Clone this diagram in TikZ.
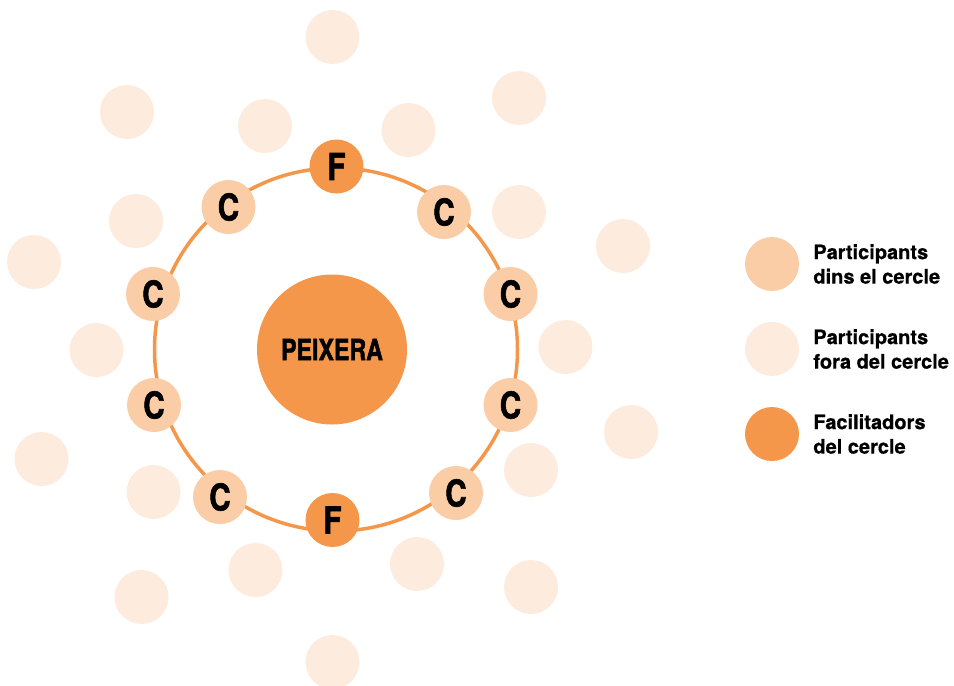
\documentclass[tikz,border=0pt]{standalone}
\usepackage{fontspec}
\setmainfont{TeX Gyre Heros}[BoldFeatures={FakeBold=0.6}]
\newfontfamily\narrowfont{TeX Gyre Heros}[FakeStretch=0.8, BoldFeatures={FakeBold=1.5}]
\usetikzlibrary{positioning}

\begin{document}
\begin{tikzpicture}[
        x=1pt, y=-1pt,
        every node/.style={circle, minimum size=54pt, inner sep=0pt},
        fac/.style={fill=facil, font={\narrowfont\bfseries\fontsize{37}{37}\selectfont}},
        inner/.style={fill=dins, font={\narrowfont\bfseries\fontsize{37}{37}\selectfont}},
        outer/.style={fill=fora},
        legtext/.style={rectangle, minimum size=0pt, align=left, anchor=west,
            font={\bfseries\fontsize{20}{24.5}\selectfont}},
    ]
        % Color palette
        \definecolor{facil}{RGB}{244,151,74}
        \definecolor{dins}{RGB}{250,205,166}
        \definecolor{fora}{RGB}{253,235,221}
        \useasboundingbox (0,0) rectangle (954,686);

        % Ring
        \draw[facil, line width=3.5pt] (336,349.5) circle (181.5);

        % Fish bowl
        \node[fill=facil, minimum size=150pt, font={\narrowfont\bfseries\fontsize{29}{29}\selectfont}] (P) at (332,349.5) {PEIXERA};

        % Inner circle
        \node[fac] (F1) at (336.5,166.5) {F};
        \node[inner] (C1) at (444,212) {C};
        \node[inner] (C2) at (510.5,294) {C};
        \node[inner] (C3) at (510.5,405) {C};
        \node[inner] (C4) at (456,493) {C};
        \node[fac] (F2) at (332.5,520) {F};
        \node[inner] (C5) at (220,497) {C};
        \node[inner] (C6) at (154,405) {C};
        \node[inner] (C7) at (153,294) {C};
        \node[inner] (C8) at (228.5,207) {C};

        % Outer participants
        \node[outer] (O1) at (332.5,37) {};
        \node[outer] (O2) at (127,112) {};
        \node[outer] (O3) at (265,126) {};
        \node[outer] (O4) at (408.5,130) {};
        \node[outer] (O5) at (519,98) {};
        \node[outer] (O6) at (136,221) {};
        \node[outer] (O7) at (34,262) {};
        \node[outer] (O8) at (519,212) {};
        \node[outer] (O9) at (623,246) {};
        \node[outer] (O10) at (96.5,350) {};
        \node[outer] (O11) at (565.5,347) {};
        \node[outer] (O12) at (41.5,459) {};
        \node[outer] (O13) at (631,432) {};
        \node[outer] (O14) at (153.5,492) {};
        \node[outer] (O15) at (531,470) {};
        \node[outer] (O16) at (255.5,570) {};
        \node[outer] (O17) at (417,564) {};
        \node[outer] (O18) at (141.5,597) {};
        \node[outer] (O19) at (531,587) {};
        \node[outer] (O20) at (332.5,662) {};

        % Legend
        \node[fill=dins] (L1) at (772,264) {};
        \node[fill=fora] (L2) at (772,349) {};
        \node[fill=facil] (L3) at (772,434) {};
        \node[legtext, right=14pt of L1] (T1) {Participants\\dins el cercle};
        \node[legtext, right=14pt of L2] (T2) {Participants\\fora del cercle};
        \node[legtext, right=14pt of L3] (T3) {Facilitadors\\del cercle};

    \end{tikzpicture}
\end{document}
